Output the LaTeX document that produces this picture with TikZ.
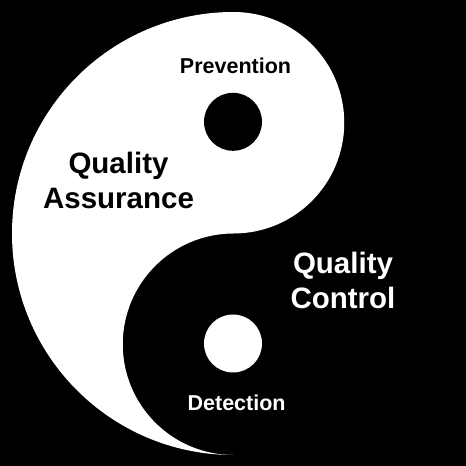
\documentclass[tikz,border=0pt]{standalone}
\usepackage{fontspec}
\setmainfont{Liberation Sans}
\begin{document}
\begin{tikzpicture}[x=1pt,y=1pt,
  small/.style={font=\bfseries\fontsize{21.5}{26}\selectfont, inner sep=0pt, anchor=base},
  big/.style={font=\bfseries\fontsize{29.5}{35}\selectfont, inner sep=0pt, align=center, anchor=base}]
\useasboundingbox (0,0) rectangle (466,466);
\fill[black] (0,0) rectangle (466,466);
% white half of the yin-yang
\fill[white] (233.5,454) arc[start angle=90, end angle=270, radius=221.5]
  arc[start angle=270, end angle=90, radius=110.75]
  arc[start angle=-90, end angle=90, radius=110.75] -- cycle;
\fill[black] (233,344.2) circle[radius=29];
\fill[white] (233,122.5) circle[radius=29];
\node[small, text=black] (prev) at (235.5,392) {Prevention};
\node[small, text=white] (det) at (236.6,55.3) {Detection};
\node[big, text=black] (qa) at (118.5,257) {Quality\\Assurance};
\node[big, text=white] (qc) at (343,157.7) {Quality\\Control};
\end{tikzpicture}
\end{document}
